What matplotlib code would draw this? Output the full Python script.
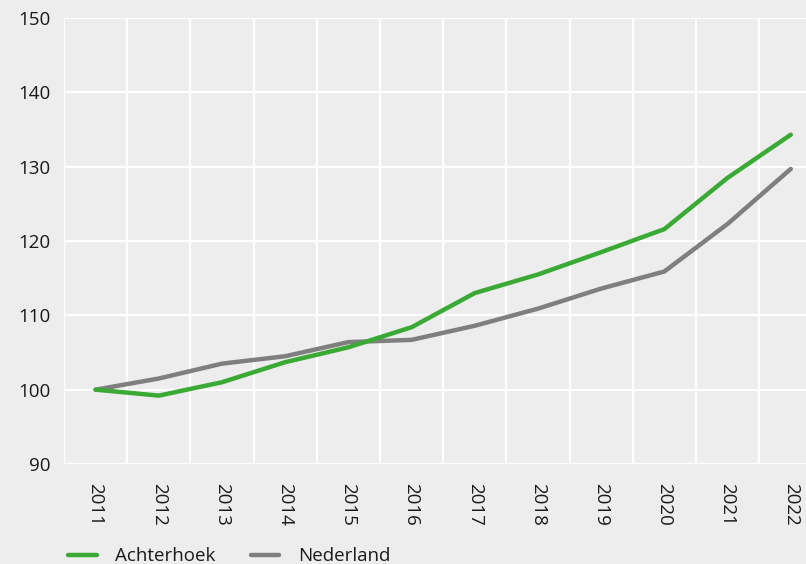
import matplotlib
matplotlib.use("Agg")
from matplotlib import pyplot as plt
import numpy as np

years = ["2011", "2012", "2013", "2014", "2015", "2016",
         "2017", "2018", "2019", "2020", "2021", "2022"]
achterhoek = [100.0, 99.2, 101.0, 103.7, 105.7, 108.4,
              113.0, 115.5, 118.5, 121.6, 128.5, 134.3]
nederland = [100.0, 101.5, 103.5, 104.5, 106.4, 106.7,
             108.6, 110.9, 113.6, 115.9, 122.3, 129.7]

plt.rcParams['font.family'] = ['Open Sans', 'DejaVu Sans']

bg = "#ededed"
fig = plt.figure(figsize=(8.06, 5.64), dpi=100, facecolor=bg)
ax = fig.add_axes([64 / 806, 100 / 564, 758.4 / 806, 446 / 564])
ax.set_facecolor(bg)

x = np.arange(len(years))
ax.plot(x, achterhoek, color="#3aaa35", lw=3.2, label="Achterhoek",
        solid_capstyle="round", zorder=3)
ax.plot(x, nederland, color="#7f7f7f", lw=3.2, label="Nederland",
        solid_capstyle="round", zorder=2)

ax.set_xlim(-0.5, len(years) - 0.5)
ax.set_ylim(90, 150)
ax.set_yticks(np.arange(90, 151, 10))
ax.set_xticks(x)
ax.set_xticklabels(years, rotation=270)
ax.set_xticks(np.arange(-0.5, len(years), 1), minor=True)

ax.grid(axis="y", which="major", color="white", lw=1.6)
ax.grid(axis="x", which="minor", color="white", lw=1.6)
ax.set_axisbelow(True)
for s in ax.spines.values():
    s.set_visible(False)

ax.tick_params(axis="both", which="both", length=0, labelsize=13.5, colors="#1a1a1a")
ax.tick_params(axis="y", pad=10)
ax.tick_params(axis="x", pad=14)

leg = fig.legend(loc="lower left", bbox_to_anchor=(0.064, -0.032), ncol=2, frameon=False,
                 fontsize=13.5, handlelength=1.5, handletextpad=1.0, columnspacing=1.9)
for t in leg.get_texts():
    t.set_color("#1a1a1a")

plt.savefig("out.png", dpi=100, facecolor=bg)
